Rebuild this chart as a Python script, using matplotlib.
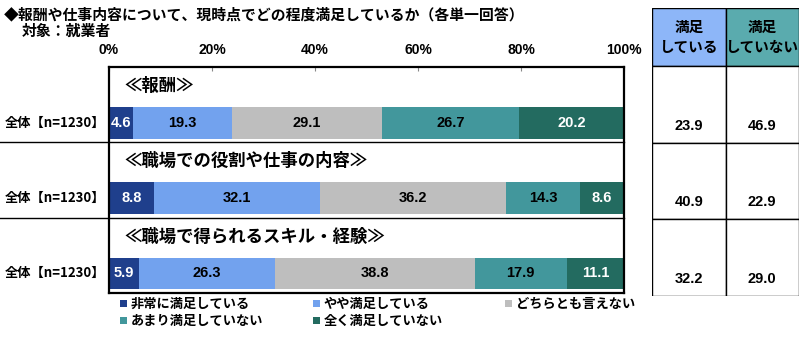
import matplotlib
matplotlib.use('Agg')
import matplotlib.pyplot as plt
from matplotlib.patches import Rectangle, Patch
import numpy as np

plt.rcParams['font.family'] = ['Noto Sans CJK JP', 'DejaVu Sans']

# Data
sections = ['≪報酬≫', '≪職場での役割や仕事の内容≫', '≪職場で得られるスキル・経験≫']
row_label = '全体【n=1230】'
categories = ['非常に満足している', 'やや満足している', 'どちらとも言えない',
              'あまり満足していない', '全く満足していない']
values = np.array([
    [4.6, 19.3, 29.1, 26.7, 20.2],
    [8.8, 32.1, 36.2, 14.3, 8.6],
    [5.9, 26.3, 38.8, 17.9, 11.1],
])
satisfied = [23.9, 40.9, 32.2]
not_satisfied = [46.9, 22.9, 29.0]
table_headers = ['満足\nしている', '満足\nしていない']

colors = ['#1F3F8C', '#72A2EE', '#BEBEBE', '#42979C', '#236B60']
text_colors = ['white', 'black', 'black', 'black', 'white']
header_colors = ['#8DB6F8', '#5AABAE']

W, H = 800, 347
fig = plt.figure(figsize=(W / 100, H / 100), dpi=100)

# main bar axes
ax = fig.add_axes([109 / W, 1 - 293 / H, (624 - 109) / W, (293 - 67) / H])
ax.set_xlim(0, 100)
ax.set_ylim(3, 0)

bar_y = np.arange(3) + 0.74
left = np.zeros(3)
for j in range(len(categories)):
    ax.barh(bar_y, values[:, j], left=left, height=0.42, color=colors[j],
            label=categories[j], edgecolor='none')
    for i in range(3):
        ax.text(left[i] + values[i, j] / 2, bar_y[i], f'{values[i, j]:.1f}',
                ha='center', va='center', fontsize=10.5, color=text_colors[j],
                family='Liberation Sans', fontweight='bold')
    left += values[:, j]

for i, s in enumerate(sections):
    ax.text(3.0, i + 0.25, s, ha='left', va='center', fontsize=12.5, fontweight='bold')
    ax.text(-109 / 515 * 100 + 0.9, bar_y[i], row_label, ha='left', va='center',
            fontsize=9.5, fontweight='bold', clip_on=False)

for yy in [1, 2]:
    ax.axhline(yy, xmin=-109 / 515, xmax=1, color='black', lw=1, clip_on=False)

ax.xaxis.tick_top()
ax.set_xticks(np.arange(0, 101, 20))
ax.set_xticklabels([f'{v}%' for v in range(0, 101, 20)], family='Liberation Sans',
                   fontweight='bold', fontsize=10)
ax.tick_params(axis='x', direction='in', length=3, width=0.8, color='#888888', pad=7)
ax.set_yticks([])
for sp in ax.spines.values():
    sp.set_linewidth(1.6)
    sp.set_color('black')

# right-hand table
tx = fig.add_axes([652 / W, 1 - 296 / H, (799 - 652) / W, (296 - 8) / H])
hdr = 58 / ((296 - 66) / 3)
tx.set_xlim(0, 2)
tx.set_ylim(3, -hdr)
tx.axis('off')
for c in range(2):
    tx.add_patch(Rectangle((c, -hdr), 1, hdr, facecolor=header_colors[c],
                           edgecolor='black', lw=1))
    tx.text(c + 0.5, -hdr / 2, table_headers[c], ha='center', va='center',
            fontsize=10.5, fontweight='bold', linespacing=1.25)
    col_vals = satisfied if c == 0 else not_satisfied
    for r in range(3):
        tx.add_patch(Rectangle((c, r), 1, 1, facecolor='white', edgecolor='black', lw=1))
        tx.text(c + 0.5, r + 0.78, f'{col_vals[r]:.1f}', ha='center', va='center',
                fontsize=10.5, family='Liberation Sans', fontweight='bold')

# title
fig.text(4 / W, 1 - 14 / H, '◆報酬や仕事内容について、現時点でどの程度満足しているか（各単一回答）',
         ha='left', va='center', fontsize=10.7, fontweight='bold')
fig.text(22 / W, 1 - 31 / H, '対象：就業者', ha='left', va='center', fontsize=10.7,
         fontweight='bold')

# legend in three columns
handles = [Patch(facecolor=c, edgecolor='none') for c in colors]
groups = [[0, 3], [1, 4], [2]]
xs = [116, 309, 501]
for g, x0 in zip(groups, xs):
    fig.legend([handles[k] for k in g], [categories[k] for k in g], loc='upper left',
               bbox_to_anchor=(x0 / W, 1 - 293 / H), frameon=False, ncol=1,
               handlelength=0.5, handleheight=0.5, handletextpad=0.3,
               labelspacing=0.25, borderpad=0.3, borderaxespad=0,
               prop={'size': 9.5, 'weight': 'bold'})

fig.savefig('out.png', dpi=100)
